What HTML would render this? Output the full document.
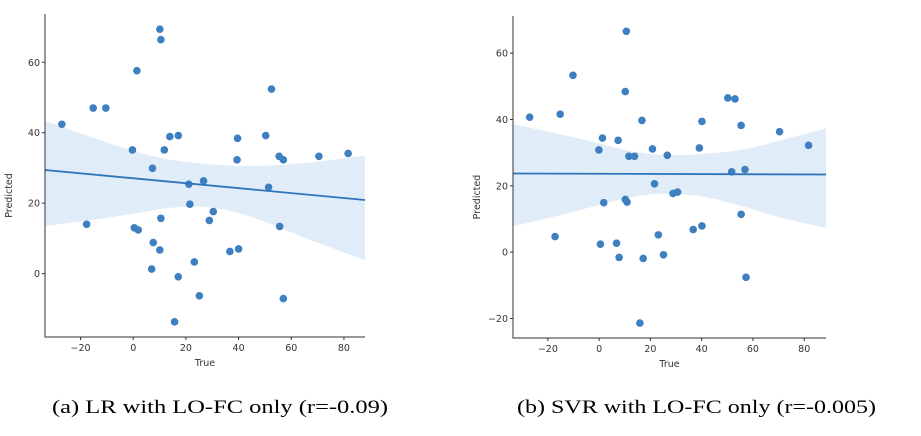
<!DOCTYPE html>
<html><head><meta charset="utf-8"><style>
html,body{margin:0;padding:0;background:#fff;}
svg{display:block;}
.tick{font-family:"DejaVu Sans","Liberation Sans",sans-serif;font-size:9.5px;fill:#333;}
.cap{font-family:"Liberation Serif",serif;font-size:19px;fill:#000;}
</style></head><body>
<svg id="chart" width="921" height="436" viewBox="0 0 921 436" xmlns="http://www.w3.org/2000/svg">
<text class="cap" x="52" y="413" textLength="336" lengthAdjust="spacingAndGlyphs">(a)  LR with LO-FC only (r=-0.09)</text>
<text class="cap" x="517" y="413" textLength="359" lengthAdjust="spacingAndGlyphs">(b)  SVR with LO-FC only (r=-0.005)</text>
</svg>
<script>
// Panel A data (LR)
const lrTrue = [10.1,10.5,1.4,52.5,-15.2,-10.4,-27.1,13.9,17.1,39.6,50.3,-0.3,11.8,39.4,55.4,57,70.5,81.6,7.3,21.1,26.7,51.4,21.5,30.4,28.9,10.5,-17.7,0.4,1.9,55.6,7.6,10.1,36.7,40,23.2,7,17.1,25.1,57,15.7];
const lrPred = [69.4,66.4,57.6,52.4,47,47,42.4,38.9,39.2,38.4,39.2,35.1,35.1,32.3,33.3,32.3,33.3,34.1,29.9,25.4,26.3,24.5,19.7,17.6,15.1,15.7,14,13,12.4,13.4,8.8,6.7,6.3,7,3.3,1.3,-0.9,-6.3,-7.1,-13.7];
const lrLineX = [-33.5,88];
const lrLineY = [29.4,20.9];
const lrBandX = [-33.5,-15,0,12,25,40,55,70,88];
const lrBandUpper = [43.4,38.5,34.8,32.6,31.3,30.6,30.8,31.8,33.5];
const lrBandLower = [13.5,15.3,17.0,18.5,19.0,17.2,13.2,8.8,3.8];
const lrXTicks = [-20,0,20,40,60,80];
const lrYTicks = [0,20,40,60];

// Panel B data (SVR)
const svrTrue = [10.6,-10.2,10.2,50.2,53,-27.1,-15.2,16.7,40.1,55.4,70.4,81.7,1.3,7.4,-0.1,20.8,39.1,11.6,13.8,26.6,51.7,56.9,21.6,28.8,30.6,1.8,10.2,10.9,55.4,-17.2,36.7,40.1,23.1,0.5,6.8,7.8,17.2,25.1,57.3,15.9];
const svrPred = [66.6,53.3,48.4,46.5,46.2,40.7,41.6,39.7,39.4,38.2,36.3,32.2,34.4,33.7,30.8,31.1,31.4,28.9,28.9,29.2,24.2,24.9,20.6,17.7,18.1,14.9,15.9,15.1,11.4,4.7,6.8,7.9,5.2,2.4,2.7,-1.6,-1.9,-0.8,-7.6,-21.4];
const svrLineX = [-33.6,88.5];
const svrLineY = [23.7,23.4];
const svrBandX = [-33.6,-15,0,12,25,40,55,70,88.5];
const svrBandUpper = [38.6,35.5,32.8,30.5,29.3,29.6,30.8,33.5,37.3];
const svrBandLower = [7.8,11.2,14.2,16.5,17.6,16.8,14.0,10.6,7.3];
const svrXTicks = [-20,0,20,40,60,80];
const svrYTicks = [-20,0,20,40,60];

const NS = "http://www.w3.org/2000/svg";
const svg = document.getElementById('chart');
function mk(tag, attrs, parent){const e=document.createElementNS(NS,tag);for(const k in attrs)e.setAttribute(k,attrs[k]);(parent||svg).appendChild(e);return e;}

function smooth(pts){
  // Catmull-Rom to cubic bezier
  let d = 'M'+pts[0][0]+','+pts[0][1];
  for(let i=0;i<pts.length-1;i++){
    const p0=pts[Math.max(0,i-1)],p1=pts[i],p2=pts[i+1],p3=pts[Math.min(pts.length-1,i+2)];
    const c1=[p1[0]+(p2[0]-p0[0])/6,p1[1]+(p2[1]-p0[1])/6];
    const c2=[p2[0]-(p3[0]-p1[0])/6,p2[1]-(p3[1]-p1[1])/6];
    d+=` C${c1[0]},${c1[1]} ${c2[0]},${c2[1]} ${p2[0]},${p2[1]}`;
  }
  return d;
}

function panel(id, box, dom, xs, ys, lx, ly, bx, bu, bl, xt, yt){
  const g = mk('g',{});
  
  
  const sx = v => box.l + (v-dom.x0)/(dom.x1-dom.x0)*(box.r-box.l);
  const sy = v => box.b - (v-dom.y0)/(dom.y1-dom.y0)*(box.b-box.t);
  const up = bx.map((x,i)=>[sx(x),sy(bu[i])]);
  const lo = bx.map((x,i)=>[sx(x),sy(bl[i])]).reverse();
  let d = smooth(up) + ' L' + smooth(lo).slice(1) + ' Z';
  const band = mk('path',{d:d,fill:'#e0ecf7',stroke:'none'},g);
  
  
  xs.forEach((x,i)=>{
    const c = mk('circle',{cx:sx(x),cy:sy(ys[i]),r:3.8,fill:'#3d7fc0'},g);
    
    
  });
  const ln = mk('line',{x1:sx(lx[0]),y1:sy(ly[0]),x2:sx(lx[1]),y2:sy(ly[1]),stroke:'#2f74b8','stroke-width':1.8},g);
  
  
  const ax = mk('path',{d:`M${box.l},${box.t} L${box.l},${box.b} L${box.r},${box.b}`,fill:'none',stroke:'#333','stroke-width':1},g);
  
  
  xt.forEach(v=>{
    mk('line',{x1:sx(v),x2:sx(v),y1:box.b,y2:box.b+3,stroke:'#333'},g);
    const t = mk('text',{x:sx(v),y:box.b+14,'text-anchor':'middle',class:'tick'},g);
    t.textContent = v<0 ? '\u2212'+(-v) : v;
    
    
  });
  yt.forEach(v=>{
    mk('line',{x1:box.l-3,x2:box.l,y1:sy(v),y2:sy(v),stroke:'#333'},g);
    const t = mk('text',{x:box.l-5,y:sy(v)+3.5,'text-anchor':'end',class:'tick'},g);
    t.textContent = v<0 ? '\u2212'+(-v) : v;
    
    
  });
  const xl = mk('text',{x:(box.l+box.r)/2,y:box.b+29,'text-anchor':'middle',class:'tick'},g);
  xl.textContent = 'True';
  
  
  const yx = box.l-33, yy = (box.t+box.b)/2+20;
  const yl = mk('text',{x:yx,y:yy,'text-anchor':'middle',class:'tick',transform:`rotate(-90 ${yx} ${yy})`},g);
  yl.textContent = 'Predicted';
  
  
}

panel('lr', {l:45,r:365,t:14,b:337}, {x0:-33.5,x1:88,y0:-18,y1:73.7},
  lrTrue, lrPred, lrLineX, lrLineY, lrBandX, lrBandUpper, lrBandLower, lrXTicks, lrYTicks);
panel('svr', {l:513,r:826,t:16,b:338}, {x0:-33.6,x1:88.5,y0:-25.9,y1:71.2},
  svrTrue, svrPred, svrLineX, svrLineY, svrBandX, svrBandUpper, svrBandLower, svrXTicks, svrYTicks);
</script>
</body></html>
